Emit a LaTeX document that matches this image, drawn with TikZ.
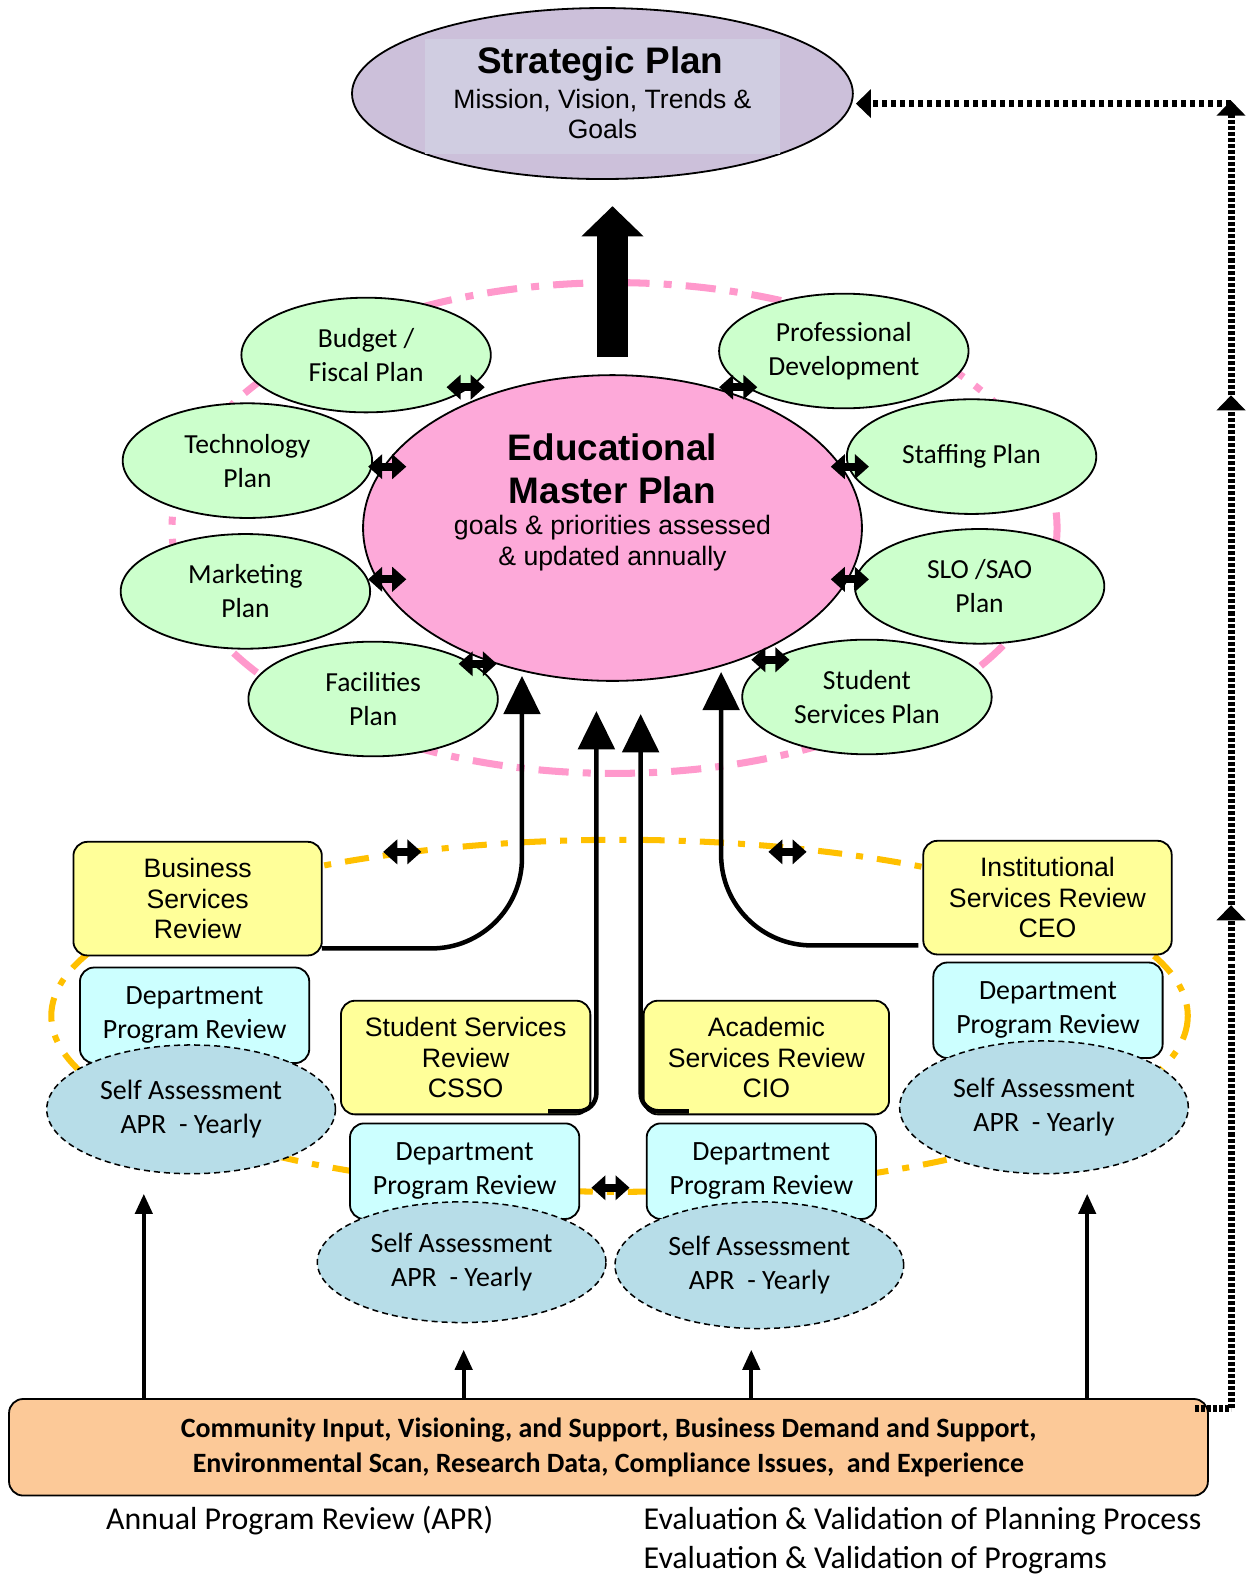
\documentclass[tikz,border=0pt]{standalone}
\usepackage{fontspec}
\setmainfont{Liberation Sans}
\newfontfamily\calib{Carlito}
\usetikzlibrary{shapes.geometric,arrows.meta}
\definecolor{plangreen}{HTML}{CCFFCC}
\definecolor{emppink}{HTML}{FDA9D9}
\definecolor{splilac}{HTML}{CCC0DA}
\definecolor{splilacin}{HTML}{D0CDE1}
\definecolor{revyellow}{HTML}{FFFF99}
\definecolor{deptcyan}{HTML}{CCFFFF}
\definecolor{selfblue}{HTML}{B7DDE8}
\definecolor{inputorange}{HTML}{FCC998}
\definecolor{ringpink}{HTML}{FF99CC}
\definecolor{ringorange}{HTML}{FFC000}

\begin{document}
\begin{tikzpicture}[x=1pt,y=-1pt,
  every node/.style={inner sep=0pt,outer sep=0pt},
  planell/.style={ellipse,draw=black,line width=1.8pt,fill=plangreen,minimum width=248pt,minimum height=114pt,align=center,font=\calib\fontsize{27.4}{34}\selectfont},
  revbox/.style={draw=black,line width=1.8pt,fill=revyellow,rounded corners=14pt,align=center,minimum height=113pt,font=\fontsize{26.5}{30.5}\selectfont},
  deptbox/.style={draw=black,line width=1.8pt,fill=deptcyan,rounded corners=14pt,align=center,minimum width=228pt,minimum height=95pt,font=\calib\fontsize{27.7}{34}\selectfont},
  selfell/.style={ellipse,draw=black,line width=1.5pt,dash pattern=on 6pt off 4pt,fill=selfblue,minimum width=287pt,align=center,font=\calib\fontsize{27.8}{34}\selectfont},
  linkarrow/.style={line width=8pt,{Triangle[length=14pt,width=24pt]}-{Triangle[length=14pt,width=24pt]}},
  riserarrow/.style={line width=4.5pt,-{Triangle[length=38pt,width=36pt]}},
  feedarrow/.style={line width=4pt,-{Triangle[length=20pt,width=17pt]}},
  loopline/.style={line width=7pt,dash pattern=on 4pt off 2pt},
  looptip/.style={loopline,-{Triangle[length=15pt,width=28pt]}},
  ringline/.style={line width=7pt,dash pattern=on 30pt off 14pt on 8pt off 14pt},
]
\useasboundingbox (0,0) rectangle (1239,1568);

% dashed rings behind the two groups
\draw[ringline,draw=ringpink] (611,525) ellipse [x radius=440,y radius=244];
\draw[ringline,line width=6pt,draw=ringorange,dash pattern=on 24pt off 14pt on 7pt off 14pt] (616,1010) ellipse [x radius=565,y radius=175];

% strategic plan
\node[ellipse,draw=black,line width=1.8pt,fill=splilac,minimum width=498pt,minimum height=170pt] (sp) at (599,93) {};
\node[fill=splilacin,minimum width=353pt,minimum height=114pt] (spbox) at (599.5,96) {};
\node[font=\bfseries\fontsize{36.7}{44}\selectfont] (sptitle) at (597,64) {Strategic Plan};
\node[font=\fontsize{26.4}{30}\selectfont,align=center] (spsub) at (599,113) {Mission, Vision, Trends \&\\Goals};

% surrounding plans
\node[planell] (bud) at (364,353) {Budget /\\Fiscal Plan};
\node[planell] (pro) at (839,349) {Professional\\Development};
\node[planell] (tec) at (246,458) {Technology\\Plan};
\node[planell] (sta) at (966,454) {Staffing Plan};
\node[planell] (mar) at (244,588) {Marketing\\Plan};
\node[planell] (slo) at (974,583) {SLO /SAO\\Plan};
\node[planell] (fac) at (371,695) {Facilities\\Plan};
\node[planell] (ssp) at (862,693) {Student\\Services Plan};

% educational master plan
\node[ellipse,draw=black,line width=1.8pt,fill=emppink,minimum width=496pt,minimum height=304pt] (emp) at (609,525) {};
\node[font=\bfseries\fontsize{36.7}{43}\selectfont,align=center] (emptitle) at (609,466) {Educational\\Master Plan};
\node[font=\fontsize{26.5}{31}\selectfont,align=center] (empsub) at (609,540) {goals \& priorities assessed\\\& updated annually};

% master plan feeds the strategic plan
\coordinate (sptip) at (609,205);
\draw[line width=30pt,-{Triangle[length=30pt,width=60pt]}] ([yshift=18pt]emp.north) -- (sptip);

% two-way links between the master plan and each plan
\foreach \cx/\cy in {463/385,734/385,385/464,845/464,385/576,845/576,475/660,766/656}
  \draw[linkarrow] (\cx-19,\cy) -- (\cx+19,\cy);

% reviews
\node[revbox,minimum width=247pt] (bsr) at (196.5,893.5) {Business\\Services\\Review};
\node[revbox,minimum width=248pt] (ssr) at (463,1051.5) {Student Services\\Review\\CSSO};
\node[revbox,minimum width=244pt] (asr) at (762,1051.5) {Academic\\Services Review\\CIO};
\node[revbox,minimum width=247pt] (isr) at (1041.5,892.5) {Institutional\\Services Review\\CEO};

% department program reviews and self assessments
\node[deptbox] (dp1) at (193.5,1009.5) {Department\\Program Review};
\node[deptbox] (dp2) at (462,1164.5) {Department\\Program Review};
\node[deptbox] (dp3) at (757,1164.5) {Department\\Program Review};
\node[deptbox] (dp4) at (1042,1004.5) {Department\\Program Review};
\node[selfell,minimum height=128pt] (sa1) at (190,1103) {Self Assessment\\APR \ - Yearly};
\node[selfell,minimum height=120pt] (sa2) at (459,1255) {Self Assessment\\APR \ - Yearly};
\node[selfell,minimum height=126pt] (sa3) at (755,1258) {Self Assessment\\APR \ - Yearly};
\node[selfell,minimum height=132pt] (sa4) at (1038,1101) {Self Assessment\\APR \ - Yearly};

% reviews rise into the master plan
\coordinate (t1) at (519,672);
\coordinate (t2) at (593,707);
\coordinate (t3) at (637,710);
\coordinate (t4) at (717,668);
\draw[riserarrow,rounded corners=90pt] ([yshift=7pt]bsr.south east) -| (t1);
\draw[riserarrow,rounded corners=18pt] ([xshift=-42pt,yshift=3pt]ssr.south east) -| (t2);
\draw[riserarrow,rounded corners=18pt] ([xshift=45pt,yshift=3pt]asr.south west) -| (t3);
\draw[riserarrow,rounded corners=90pt] ([xshift=-5pt,yshift=9pt]isr.south west) -| (t4);

% two-way links on the review ring
\foreach \cx/\cy in {400/847,783/847,607/1181}
  \draw[linkarrow] (\cx-19,\cy) -- (\cx+19,\cy);

% inputs
\node[draw=black,line width=1.8pt,fill=inputorange,rounded corners=14pt,minimum width=1192pt,minimum height=96pt,align=center,font=\calib\bfseries\fontsize{27.8}{35}\selectfont] (ob) at (605,1439) {Community Input, Visioning, and Support, Business Demand and Support,\\Environmental Scan, Research Data, Compliance Issues, \ and Experience};

\coordinate (u1) at (143,1187);
\coordinate (u2) at (461,1342);
\coordinate (u3) at (747,1342);
\coordinate (u4) at (1081,1187);
\foreach \u in {u1,u2,u3,u4}
  \draw[feedarrow] (\u |- ob.north) -- (\u);

% evaluation loop back to the strategic plan
\coordinate (fb0) at ([xshift=-13pt,yshift=-9pt]ob.north east);
\coordinate (fb1) at (1224,1400);
\coordinate (fb2) at (1224,900);
\coordinate (fb3) at (1224,393);
\coordinate (fb4) at (1224,100);
\coordinate (fb5) at (1224,103);
\draw[loopline] (fb0) -- (fb1);
\draw[looptip] (fb1) -- (fb2);
\draw[looptip] (fb2) -- (fb3);
\draw[looptip] (fb3) -- (fb4);
\draw[looptip,dash pattern=on 5pt off 4pt] (fb5) -- ([xshift=3pt,yshift=-10pt]sp.east);

% captions
\node[font=\calib\fontsize{31.7}{39}\selectfont] (apr) at (298,1512) {Annual Program Review (APR)};
\node[font=\calib\fontsize{31.7}{39}\selectfont,anchor=west] (evp) at (640,1512) {Evaluation \& Validation of Planning Process};
\node[font=\calib\fontsize{31.7}{39}\selectfont,anchor=west] (evg) at (640,1551) {Evaluation \& Validation of Programs};
\end{tikzpicture}
\end{document}
